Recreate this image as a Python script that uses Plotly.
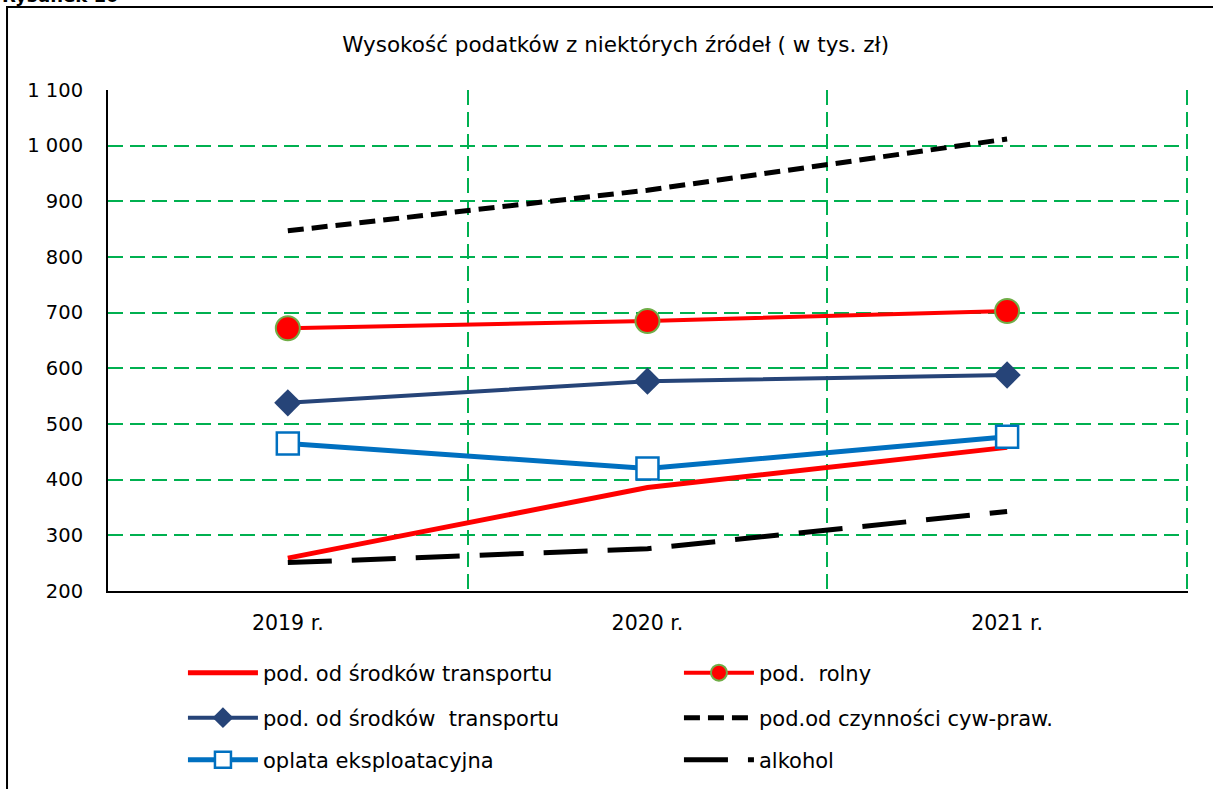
import plotly.graph_objects as go

years = ["2019 r.", "2020 r.", "2021 r."]

transport_line = [259, 386, 458]        # pod. od środków transportu (red line)
rolny = [672, 685, 703]                 # pod. rolny
transport_diamond = [538, 577, 588]     # pod. od środków  transportu
czynnosci = [847, 920, 1012]            # pod.od czynności cyw-praw.
oplata = [465, 420, 477]                # oplata eksploatacyjna
alkohol = [251, 276, 343]               # alkohol

y_ticks = [200, 300, 400, 500, 600, 700, 800, 900, 1000, 1100]
y_labels = ["200", "300", "400", "500", "600", "700", "800", "900", "1 000", "1 100"]

FONT = "DejaVu Sans"
GRID = "#00B050"

fig = go.Figure()

# legend rows: "legend" = row 1, "legend2" = row 2, "legend3" = row 3
fig.add_trace(go.Scatter(
    x=years, y=transport_line, mode="lines",
    line=dict(color="#FF0000", width=5),
    name="pod. od środków transportu", legend="legend",
))
fig.add_trace(go.Scatter(
    x=years, y=rolny, mode="lines+markers",
    line=dict(color="#FF0000", width=4),
    marker=dict(symbol="circle", size=24, color="#FF0000",
                line=dict(color="#70AD47", width=2)),
    name="pod.  rolny", legend="legend",
))
fig.add_trace(go.Scatter(
    x=years, y=transport_diamond, mode="lines+markers",
    line=dict(color="#264478", width=4),
    marker=dict(symbol="diamond", size=21, color="#264478"),
    name="pod. od środków  transportu", legend="legend2",
))
fig.add_trace(go.Scatter(
    x=years, y=czynnosci, mode="lines",
    line=dict(color="#000000", width=5, dash="16px,8px"),
    name="pod.od czynności cyw-praw.", legend="legend2",
))
fig.add_trace(go.Scatter(
    x=years, y=oplata, mode="lines+markers",
    line=dict(color="#0070C0", width=5),
    marker=dict(symbol="square", size=22, color="#FFFFFF",
                line=dict(color="#0070C0", width=2.5)),
    name="oplata eksploatacyjna", legend="legend3",
))
fig.add_trace(go.Scatter(
    x=years, y=alkohol, mode="lines",
    line=dict(color="#000000", width=5, dash="44px,20px"),
    name="alkohol", legend="legend3",
))

# outer frame of the figure
fig.add_shape(type="rect", xref="paper", yref="paper",
              x0=-0.0935, x1=1.03, y0=-0.45, y1=1.1657,
              line=dict(color="#000000", width=2), layer="below")

fig.add_annotation(text="<b>Rysunek 10</b>", xref="paper", yref="paper",
                   x=-0.1, y=1.1637, xanchor="left", yanchor="bottom",
                   showarrow=False, font=dict(family=FONT, size=18, color="#000000"))


def row_legend(y):
    return dict(
        orientation="h", x=0.0694, y=y, xanchor="left", yanchor="middle",
        entrywidth=411, entrywidthmode="pixels",
        font=dict(family=FONT, size=21, color="#000000"), itemwidth=70,
        bgcolor="rgba(0,0,0,0)",
    )


fig.update_layout(
    title=dict(text="Wysokość podatków z niektórych źródeł ( w tys. zł)",
               x=0.47, xanchor="center", y=0.943, yanchor="middle",
               xref="paper",
               font=dict(family=FONT, size=21.5, color="#000000")),
    font=dict(family=FONT, size=20, color="#000000"),
    xaxis=dict(
        type="category", range=[-0.5, 2.503],
        tickson="boundaries", ticks="",
        showgrid=True, gridcolor=GRID, griddash="15px,7px", gridwidth=2,
        showline=True, linecolor="#000000", linewidth=2,
        tickfont=dict(family=FONT, size=20.5), ticklabelstandoff=12,
    ),
    yaxis=dict(
        range=[200, 1100], tickvals=y_ticks, ticktext=y_labels,
        showgrid=True, gridcolor=GRID, griddash="15px,7px", gridwidth=2,
        showline=True, linecolor="#000000", linewidth=2,
        zeroline=False, ticks="",
        tickfont=dict(family=FONT, size=19.5), ticklabelstandoff=19,
    ),
    legend=row_legend(-0.1637),
    legend2=row_legend(-0.2535),
    legend3=row_legend(-0.3373),
    showlegend=True,
    margin=dict(l=108, r=25, t=90, b=198, autoexpand=False),
    width=1213, height=789,
    paper_bgcolor="white", plot_bgcolor="white",
)

# the page is photographed edge to edge, so drop the default body margin
fig.write_html("out.html", config={"displayModeBar": False},
               post_script="document.body.style.margin='0px';")
